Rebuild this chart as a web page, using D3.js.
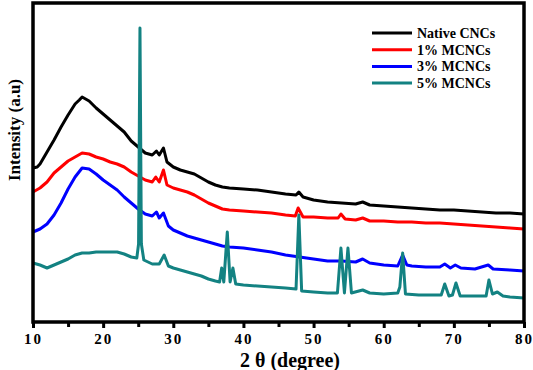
<!DOCTYPE html>
<html>
<head>
<meta charset="utf-8">
<script src="https://cdn.jsdelivr.net/npm/d3@7"></script>
<style>
  body { margin: 0; background: #fff; }
  text { font-family: "Liberation Serif", "Times New Roman", serif; font-weight: bold; }
</style>
</head>
<body>
<div id="wrapper"></div>
<script>
// 1. Data (2 theta in degrees, intensity in arbitrary units)
const seriesNames = ["Native CNCs", "1% MCNCs", "3% MCNCs", "5% MCNCs"];
const seriesColors = ["#000000", "#ff0000", "#0000ff", "#138282"];

const nativeCNCs = [
  [10,154],[10.6,155],[11,158],[12,170],[13,182],[14,195],[15,207],[16,218],[16.6,222],[17,225],[17.5,223],
  [18,221],[19,214],[20,208],[21,202],[22,196],[23,190],[24,181],[25,175],[26,169],[27,167],
  [27.6,171],[28,167],[28.6,174],[29.1,160],[30,155],[31,152],[32,150],[33,148],[34,144],
  [35,140],[36,137],[37,135],[38,134],[40,133],[42,132],[44,130],[46,128],[47.5,127],[47.9,130],
  [48.5,125],[50,122],[52,120],[54,119],[56,118],[57,120],[58,117],[60,116],[62,115],[64,114],
  [66,113],[68,112],[70,112],[72,111],[74,110],[76,109],[78,109],[80,108]
];
const mcnc1 = [
  [10,130],[11,134],[12,140],[13,149],[14,155],[15,161],[16,165],[17,169],[18,168],[19,165],
  [20,163],[21,160],[22,158],[23,155],[24,150],[25,146],[26,142],[27,140],[27.5,145],[28,140],
  [28.6,152],[29.1,137],[30,134],[31,132],[32,130],[33,127],[34,123],[35,119],[36,116],[37,113],
  [38,112],[40,111],[42,110],[44,109],[46,107],[47.4,106],[47.8,114],[48.5,105],[50,105],[52,104],
  [53.5,104],[53.9,108],[54.5,103],[56,102],[57,104],[58,101],[60,101],[62,100],[64,100],
  [66,99],[68,99],[70,98],[72,97],[74,96],[76,95],[78,94],[80,93]
];
const mcnc3 = [
  [10,90],[11,93],[12,98],[13,107],[14,119],[15,133],[16,145],[17,154],[18,153],[19,148],
  [20,142],[21,137],[22,132],[23,125],[24,119],[25,113],[26,108],[27,106],[27.6,110],[28,104],
  [28.6,109],[29.3,96],[30,92],[31,89],[32,86],[33,84],[34,82],[35,80],[36,78],[37,76],[38,75],
  [40,74],[42,72],[44,70],[46,67],[48,65],[50,63],[52,61],[54,61],[56,60],[57,63],[58,59],
  [60,57],[62,56],[62.7,67],[63.3,57],[64,56],[66,55],[68,55],[68.7,58],[69.5,54],[70.2,57],
  [71,54],[73,53],[74.9,57],[75.6,53],[78,52],[80,51]
];
const mcnc5 = [
  [10,59],[11,57],[12,54],[13,57],[14,60],[15,63],[16,67],[17,69],[18,69],[19,70],[20,70],
  [21,70],[22,70],[23,68],[24,65],[24.8,64],[25.05,78],[25.25,294],[25.45,78],[25.8,62],
  [27,58],[28,58],[28.7,67],[29.3,56],[30,54],[31,52],[32,50],[33,48],[34,46],[35,43],[36,41],
  [36.6,40],[36.9,54],[37.2,40],[37.7,90],[38.1,40],[38.5,54],[38.9,38],[40,37],[42,36],
  [44,35],[46,34],[47.5,33],[47.9,107],[48.3,31],[50,30],[52,29],[53.4,29],[53.9,74],[54.4,29],
  [54.9,74],[55.4,29],[57,32],[58,29],[60,28],[62,29],[62.3,35],[62.7,69],[63.1,28],[65,27],
  [68.2,27],[68.7,38],[69.3,26],[69.8,27],[70.3,39],[70.9,26],[73,26],[74.6,26],[75,42],
  [75.5,28],[76.2,30],[77,26],[78,25],[80,24]
];
const seriesData = [nativeCNCs, mcnc1, mcnc3, mcnc5];

const xTicks = [10, 20, 30, 40, 50, 60, 70, 80];
const xMinorTicks = [15, 25, 35, 45, 55, 65, 75];

const xAccessor = d => d[0];
const yAccessor = d => d[1];

// 2. Dimensions
const dimensions = {
  width: 533,
  height: 370,
  margin: { top: 3, right: 9, bottom: 48, left: 33 },
};
dimensions.boundedWidth = dimensions.width - dimensions.margin.left - dimensions.margin.right;
dimensions.boundedHeight = dimensions.height - dimensions.margin.top - dimensions.margin.bottom;

// 3. Canvas
const svg = d3.select("#wrapper")
  .append("svg")
  .attr("width", dimensions.width)
  .attr("height", dimensions.height);

const bounds = svg.append("g")
  .attr("transform", `translate(${dimensions.margin.left},${dimensions.margin.top})`);

// 4. Scales
const xScale = d3.scaleLinear()
  .domain([10, 80])
  .range([0, dimensions.boundedWidth]);

const yScale = d3.scaleLinear()
  .domain([0, 319])
  .range([dimensions.boundedHeight, 0]);

// 5. Lines
const lineGenerator = d3.line()
  .x(d => xScale(xAccessor(d)))
  .y(d => yScale(yAccessor(d)));

bounds.selectAll(".series")
  .data(seriesData)
  .join("path")
  .attr("class", "series")
  .attr("d", lineGenerator)
  .attr("fill", "none")
  .attr("stroke", (d, i) => seriesColors[i])
  .attr("stroke-width", 3)
  .attr("stroke-linejoin", "round");

// 6. Peripherals
const xAxis = bounds.append("g")
  .attr("transform", `translate(0,${dimensions.boundedHeight})`)
  .call(d3.axisBottom(xScale).tickValues(xTicks).tickSize(6).tickPadding(5).tickFormat(d3.format("d")));
xAxis.select(".domain").remove();
xAxis.selectAll(".tick line").attr("stroke", "#000").attr("stroke-width", 3);
xAxis.selectAll(".tick text")
  .attr("font-size", 15)
  .attr("letter-spacing", "2px")
  .attr("fill", "#000");

const xMinor = bounds.append("g")
  .attr("transform", `translate(0,${dimensions.boundedHeight})`)
  .call(d3.axisBottom(xScale).tickValues(xMinorTicks).tickSize(5).tickFormat(""));
xMinor.select(".domain").remove();
xMinor.selectAll(".tick line").attr("stroke", "#000").attr("stroke-width", 3);

// frame
bounds.append("rect")
  .attr("width", dimensions.boundedWidth)
  .attr("height", dimensions.boundedHeight)
  .attr("fill", "none")
  .attr("stroke", "#000")
  .attr("stroke-width", 3.5);

// axis labels
svg.append("text")
  .attr("x", 290)
  .attr("y", 367)
  .attr("text-anchor", "middle")
  .attr("font-size", 20)
  .text("2 θ (degree)");

svg.append("text")
  .attr("transform", "translate(20,130) rotate(-90)")
  .attr("text-anchor", "middle")
  .attr("font-size", 17)
  .text("Intensity (a.u)");

// legend
const legend = svg.append("g")
  .attr("transform", "translate(372,33)");
const legendItems = legend.selectAll("g")
  .data(seriesNames)
  .join("g")
  .attr("transform", (d, i) => `translate(0,${i * 16.7})`);
legendItems.append("line")
  .attr("x1", 0).attr("x2", 40)
  .attr("stroke", (d, i) => seriesColors[i])
  .attr("stroke-width", 3);
legendItems.append("text")
  .attr("x", 45)
  .attr("y", 5)
  .attr("font-size", 14)
  .text(d => d);
</script>
</body>
</html>
